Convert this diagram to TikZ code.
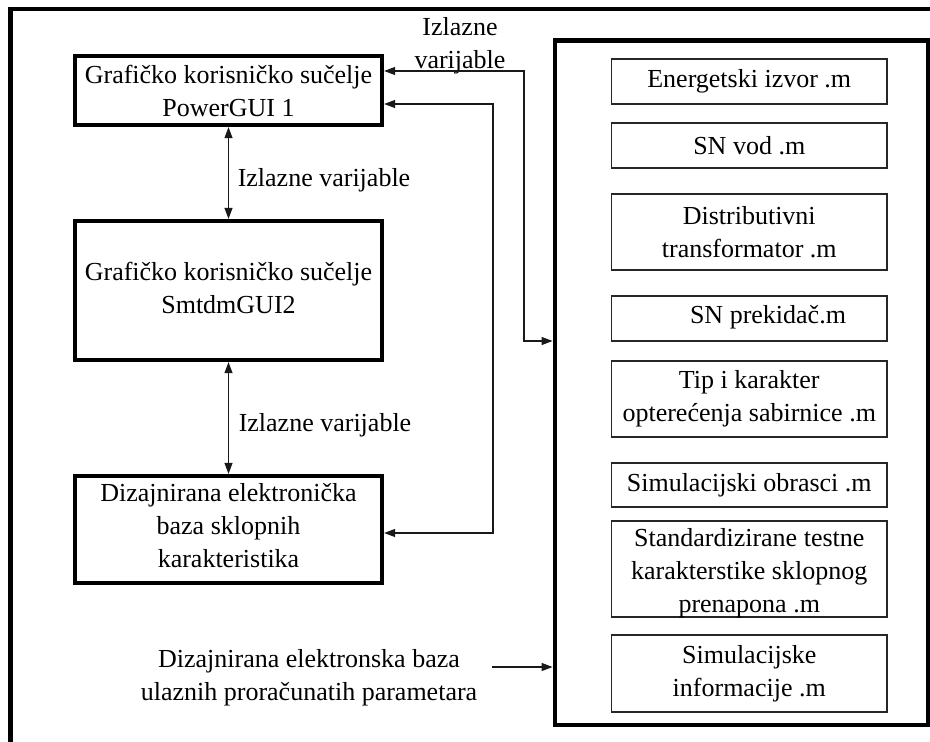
\documentclass[tikz,border=0pt]{standalone}
\usepackage{fontspec}
\setmainfont{Liberation Serif}
\usetikzlibrary{arrows.meta}
\begin{document}
\begin{tikzpicture}[x=1pt,y=-1pt,
  every node/.style={font=\fontsize{26}{33}\selectfont},
  heavy/.style={draw, line width=4.3pt, minimum width=307pt, align=center, inner sep=2pt},
  bigbox/.style={draw, line width=4.8pt},
  ibox/.style={draw=black!85, line width=1.1pt, minimum width=275.5pt, align=center, inner sep=1pt},
  conn/.style={line width=1.1pt, draw=black!90},
  arr/.style={conn, -{Triangle[length=11pt,width=8pt]}},
  dbl/.style={conn, {Triangle[length=11pt,width=8pt]}-{Triangle[length=11pt,width=8pt]}}
]
\useasboundingbox (0,0) rectangle (930,742);
% outer frame (cut off at right and bottom)
\draw[line width=4.5pt] (10.5,760) -- (10.5,9) -- (960,9);

% left column
\node[heavy, minimum height=69pt] (A) at (228.5,90.5) {Grafičko korisničko sučelje\\PowerGUI 1};
\node[heavy, minimum height=139pt] (B) at (228.5,290.5) {};
\node[align=center] (tB) at (228.5,288) {Grafičko korisničko sučelje\\SmtdmGUI2};
\node[heavy, minimum height=107pt] (C) at (228.5,529.5) {};
\node[align=center] (tC) at (228.5,525.5) {Dizajnirana elektronička\\baza sklopnih\\karakteristika};

% right container
\node[bigbox, minimum width=373pt, minimum height=684.5pt] (R) at (741.5,382.75) {};
\node[ibox, minimum height=45pt] (r1) at (749.25,81.5) {Energetski izvor .m};
\node[ibox, minimum height=45pt] (r2) at (749.25,145.5) {SN vod .m};
\node[ibox, minimum height=76pt] (r3) at (749.25,232) {Distributivni\\transformator .m};
\node[ibox, minimum height=45pt] (r4) at (749.25,318.5) {};
\node (t4) at (768,316.9) {SN prekidač.m};
\node[ibox, minimum height=76pt] (r5) at (749.25,399) {Tip i karakter\\opterećenja sabirnice .m};
\node[ibox, minimum height=44pt] (r6) at (749.25,485) {Simulacijski obrasci .m};
\node[ibox, minimum height=96pt] (r7) at (749.25,569) {};
\node[align=center] (t7) at (749.25,573.4) {Standardizirane testne\\karakterstike sklopnog\\prenapona .m};
\node[ibox, minimum height=77pt] (r8) at (749.25,673.5) {Simulacijske\\informacije .m};

% labels
\node[align=center] (l0) at (460,46) {Izlazne\\varijable};
\node (l1) at (324,179.9) {Izlazne varijable};
\node (l2) at (325,425) {Izlazne varijable};
\node[align=center] (bt) at (309,677.4) {Dizajnirana elektronska baza\\ulaznih proračunatih parametara};

% connectors
\draw[dbl] (A.south) -- (B.north);
\draw[dbl] (B.south) -- (C.north);
\coordinate (k1) at (524,71);
\coordinate (k2) at (524,341);
\draw[dbl] (A.east |- k1) -- (k1) -- (k2) -- (R.west |- k2);
\coordinate (k3) at (493,104);
\coordinate (k4) at (493,533);
\draw[dbl] (A.east |- k3) -- (k3) -- (k4) -- (C.east |- k4);
\coordinate (k5) at (492,667);
\draw[arr] (k5) -- (R.west |- k5);
\end{tikzpicture}
\end{document}
